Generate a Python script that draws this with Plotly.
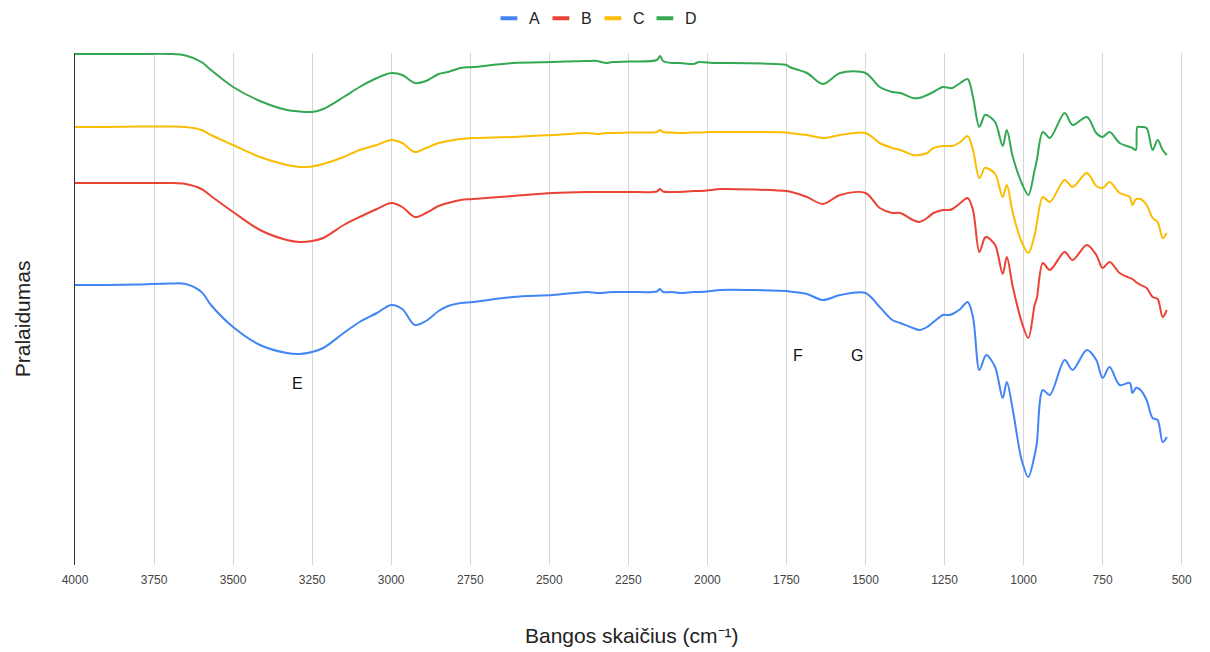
import plotly.graph_objects as go

# Wavenumbers (cm^-1) shared by all four spectra
wavenumber = [
    4000, 3900, 3800, 3700, 3650, 3600, 3570, 3500, 3415, 3330,
    3290, 3250, 3215, 3150, 3100, 3045, 3000, 2965, 2925, 2890,
    2850, 2820, 2780, 2740, 2615, 2490, 2380, 2350, 2320, 2300,
    2245, 2160, 2150, 2140, 2110, 2085, 2045, 2025, 1985, 1960,
    1750, 1740, 1685, 1635, 1580, 1500, 1455, 1415, 1390, 1350,
    1330, 1305, 1285, 1255, 1235, 1225, 1200, 1177, 1160, 1140,
    1123, 1117, 1090, 1066, 1053, 1034, 1006, 985, 965, 958,
    939, 917, 870, 845, 800, 770, 750, 728, 696, 664,
    656, 645, 640, 630, 611, 592, 576, 560, 547,
]

# Transmittance (arbitrary units, spectra stacked with offsets)
series_a = [
    56.0, 56.0, 56.1, 56.3, 56.2, 54.6, 52.0, 47.6, 44.0, 42.4,
    42.2, 42.6, 43.4, 46.4, 48.6, 50.4, 52.0, 51.2, 48.0, 48.8,
    50.8, 51.8, 52.4, 52.6, 53.6, 54.0, 54.6, 54.4, 54.5, 54.6,
    54.6, 54.7, 55.2, 54.6, 54.6, 54.4, 54.6, 54.6, 54.8, 55.0,
    54.8, 54.7, 54.2, 53.0, 54.0, 54.4, 51.6, 49.0, 48.4, 47.4,
    47.0, 47.6, 48.6, 50.0, 50.0, 50.2, 51.2, 52.6, 49.6, 39.0,
    41.6, 42.0, 39.6, 33.4, 36.6, 31.0, 21.0, 17.6, 22.0, 24.4,
    35.0, 34.0, 41.0, 39.0, 43.0, 41.0, 37.4, 39.6, 36.0, 36.4,
    34.4, 35.4, 35.4, 35.0, 33.0, 29.4, 29.0, 24.6, 25.6,
]
series_b = [
    76.4, 76.4, 76.4, 76.4, 76.2, 75.2, 73.8, 70.6, 67.0, 65.0,
    64.6, 64.8, 65.4, 68.0, 69.6, 71.2, 72.4, 71.6, 69.6, 70.4,
    71.8, 72.4, 73.0, 73.2, 73.8, 74.4, 74.6, 74.6, 74.6, 74.6,
    74.6, 74.7, 75.2, 74.7, 74.6, 74.6, 74.8, 74.8, 75.0, 75.2,
    74.8, 74.7, 73.6, 72.2, 74.0, 74.4, 71.4, 70.4, 70.4, 69.0,
    68.6, 69.4, 70.4, 71.0, 71.0, 71.2, 72.4, 73.4, 71.0, 62.6,
    65.4, 65.6, 64.0, 58.2, 61.6, 55.6, 48.6, 45.4, 52.0, 53.4,
    60.4, 59.0, 62.6, 61.0, 64.0, 62.0, 59.4, 60.6, 58.4, 57.4,
    57.2, 56.6, 56.4, 56.0, 55.4, 53.6, 53.2, 49.6, 51.0,
]
series_c = [
    87.6, 87.6, 87.7, 87.7, 87.6, 87.0, 86.0, 84.0, 81.6, 80.0,
    79.6, 79.7, 80.2, 81.6, 83.0, 84.0, 85.0, 84.4, 82.6, 83.4,
    84.4, 84.8, 85.2, 85.4, 85.6, 86.0, 86.4, 86.2, 86.4, 86.4,
    86.5, 86.6, 87.0, 86.6, 86.5, 86.4, 86.5, 86.5, 86.6, 86.6,
    86.5, 86.4, 86.0, 85.4, 86.0, 86.4, 84.4, 83.4, 83.0, 82.0,
    82.0, 82.4, 83.4, 83.8, 83.8, 83.8, 84.6, 85.8, 83.0, 77.4,
    79.4, 79.4, 78.2, 73.6, 76.0, 70.4, 64.6, 62.4, 66.0, 68.4,
    73.6, 72.6, 77.0, 75.6, 78.4, 75.8, 75.4, 76.6, 74.4, 73.6,
    72.0, 73.2, 73.2, 73.2, 72.0, 69.4, 68.6, 65.4, 66.4,
]
series_d = [
    102.2, 102.2, 102.2, 102.2, 101.9, 100.6, 99.0, 95.6, 92.8, 91.0,
    90.7, 90.6, 91.2, 93.6, 95.6, 97.4, 98.4, 98.0, 96.4, 96.8,
    98.2, 98.6, 99.4, 99.6, 100.4, 100.6, 100.8, 100.8, 100.4, 100.6,
    100.7, 101.0, 101.8, 100.8, 100.4, 100.4, 100.2, 100.6, 100.4, 100.4,
    100.0, 99.6, 98.4, 96.2, 98.4, 98.4, 95.6, 94.6, 94.4, 93.4,
    93.4, 94.0, 94.6, 95.6, 95.4, 95.4, 96.4, 97.2, 93.6, 87.6,
    90.0, 90.0, 88.6, 83.8, 87.0, 81.6, 76.4, 74.0, 79.0, 81.0,
    86.6, 85.4, 90.4, 88.0, 89.6, 86.4, 85.6, 86.6, 84.4, 83.6,
    83.4, 83.0, 87.6, 87.6, 87.4, 83.0, 85.0, 83.0, 82.0,
]

series_names = ["A", "B", "C", "D"]
series_values = [series_a, series_b, series_c, series_d]
series_colors = ["#4285f4", "#ea4335", "#fbbc04", "#34a853"]

# Band labels: (text, wavenumber, transmittance)
band_labels = [("E", 3295, 36.4), ("F", 1714, 42.0), ("G", 1528, 42.0)]

x_ticks = list(range(4000, 499, -250))

FONT = "Liberation Sans, Arial, sans-serif"

fig = go.Figure()

for name, values, color in zip(series_names, series_values, series_colors):
    fig.add_trace(go.Scatter(
        x=wavenumber, y=values, mode="lines", name=name,
        line=dict(color=color, width=2, shape="spline", smoothing=0.9),
        showlegend=False, hoverinfo="x+y+name",
    ))

# Legend entries with short, thick line swatches
for name, color in zip(series_names, series_colors):
    fig.add_trace(go.Scatter(
        x=[None], y=[None], mode="markers", name=name,
        marker=dict(symbol="line-ew", size=12, line=dict(color=color, width=4)),
        showlegend=True,
    ))

for text, wn, val in band_labels:
    fig.add_annotation(
        x=wn, y=val, xref="x", yref="y", text=text, showarrow=False,
        font=dict(family=FONT, size=16, color="#111111"),
    )

# Axis titles
fig.add_annotation(
    x=0.5, y=-0.137, xref="paper", yref="paper", text="Bangos skaičius (cm⁻¹)",
    showarrow=False, xanchor="center", yanchor="middle",
    font=dict(family=FONT, size=21, color="#222222"),
)
fig.add_annotation(
    x=-0.0476, y=0.48, xref="paper", yref="paper", text="Pralaidumas",
    showarrow=False, textangle=-90, xanchor="center", yanchor="middle",
    font=dict(family=FONT, size=21, color="#222222"),
)

fig.update_layout(
    width=1210, height=652,
    margin=dict(l=75, r=22, t=53, b=87, autoexpand=False),
    paper_bgcolor="white", plot_bgcolor="white",
    font=dict(family=FONT, color="#444444"),
    legend=dict(
        orientation="h", xref="container", yref="container",
        x=0.49, xanchor="center", y=0.972, yanchor="middle",
        font=dict(family=FONT, size=16, color="#222222"),
        entrywidth=7, itemwidth=30,
    ),
    xaxis=dict(
        range=[4000, 480], tickvals=x_ticks, ticktext=[str(t) for t in x_ticks],
        showgrid=True, gridcolor="#d6d6d6", gridwidth=1,
        zeroline=False, showline=False,
        ticks="outside", ticklen=4, tickcolor="rgba(0,0,0,0)",
        tickfont=dict(family=FONT, size=12, color="#444444"),
    ),
    yaxis=dict(
        range=[0, 102.4], showticklabels=False, showgrid=False, zeroline=False,
        showline=True, linecolor="#333333", linewidth=1, ticks="",
    ),
)

fig.write_html("out.html")
